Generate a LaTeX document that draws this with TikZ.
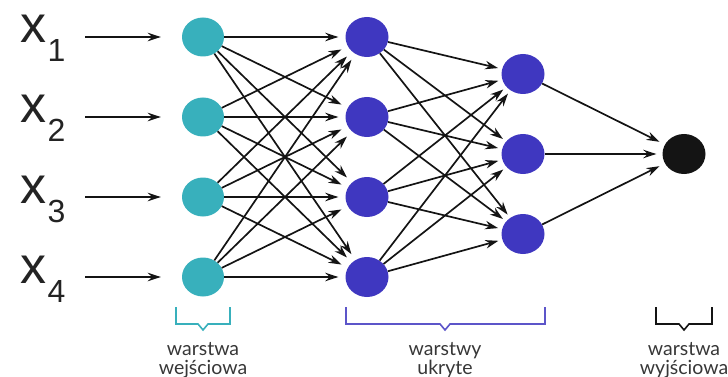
\documentclass[tikz,border=0pt]{standalone}
\usepackage{fontspec}
\setmainfont{Liberation Sans}
\newfontfamily\latofont{Lato}
\usetikzlibrary{arrows.meta,shapes.geometric}
\definecolor{tealc}{RGB}{56,176,188}
\definecolor{purpc}{RGB}{63,55,192}
\definecolor{outc}{RGB}{20,20,20}
\definecolor{txtc}{RGB}{35,35,35}
\definecolor{lblc}{RGB}{55,55,55}
\tikzset{
  neuron/.style={ellipse,minimum width=43pt,minimum height=40pt,inner sep=0pt,draw=none},
  inneuron/.style={neuron,fill=tealc,minimum width=42pt,minimum height=39pt},
  hidneuron/.style={neuron,fill=purpc},
  outneuron/.style={neuron,fill=outc},
  conn/.style={line width=1.7pt,draw=outc,-{Stealth[length=13pt,width=8.5pt]}},
  xlabel/.style={anchor=base west,inner sep=0pt,text=txtc},
  layerlabel/.style={align=center,inner sep=0pt,text=lblc,font=\latofont\fontsize{19.5}{19}\selectfont},
  bracket/.style={line width=1.6pt}
}
\newcommand{\xsub}[1]{{\fontsize{52}{52}\selectfont x\kern1.5pt\raisebox{-19pt}{\fontsize{32}{32}\selectfont #1}}}
\begin{document}
\begin{tikzpicture}[x=1pt,y=-1pt]
\useasboundingbox (0,0) rectangle (728,377);
\foreach \i/\y in {1/37,2/117,3/197,4/277}{
  \node[inneuron] (i\i) at (203,\y) {};
  \node[hidneuron] (h\i) at (367,\y) {};
  \node[xlabel] (x\i) at (20,\y+6) {\xsub{\i}};
  \coordinate (a\i) at (85,\y);
}
\foreach \k/\y in {1/74,2/154,3/234}{
  \node[hidneuron] (g\k) at (523,\y) {};
}
\node[outneuron] (o) at (684,154) {};
\foreach \i in {1,...,4}{
  \draw[conn,shorten >=21pt] (a\i) -- (i\i);
}
\foreach \i in {1,...,4}{
  \foreach \j in {1,...,4}{
    \draw[conn,shorten >=7pt] (i\i) -- (h\j);
  }
}
\foreach \j in {1,...,4}{
  \foreach \k in {1,...,3}{
    \draw[conn,shorten >=4pt] (h\j) -- (g\k);
  }
}
\foreach \k in {1,...,3}{
  \draw[conn,shorten >=6pt] (g\k) -- (o);
}
\draw[bracket,tealc] (176,307) -- (176,324) -- (198,324) -- (203,330) -- (208,324) -- (230,324) -- (230,307);
\draw[bracket,purpc!85!white] (346,307) -- (346,324) -- (440,324) -- (445,330) -- (450,324) -- (545,324) -- (545,307);
\draw[bracket,outc] (656,307) -- (656,324) -- (679,324) -- (684,330) -- (689,324) -- (712,324) -- (712,307);
\node[layerlabel,anchor=base] (l1) at (203,374) {warstwa\\wejściowa};
\node[layerlabel,anchor=base] (l2) at (445,374) {warstwy\\ukryte};
\node[layerlabel,anchor=base] (l3) at (684,374) {warstwa\\wyjściowa};
\end{tikzpicture}
\end{document}
